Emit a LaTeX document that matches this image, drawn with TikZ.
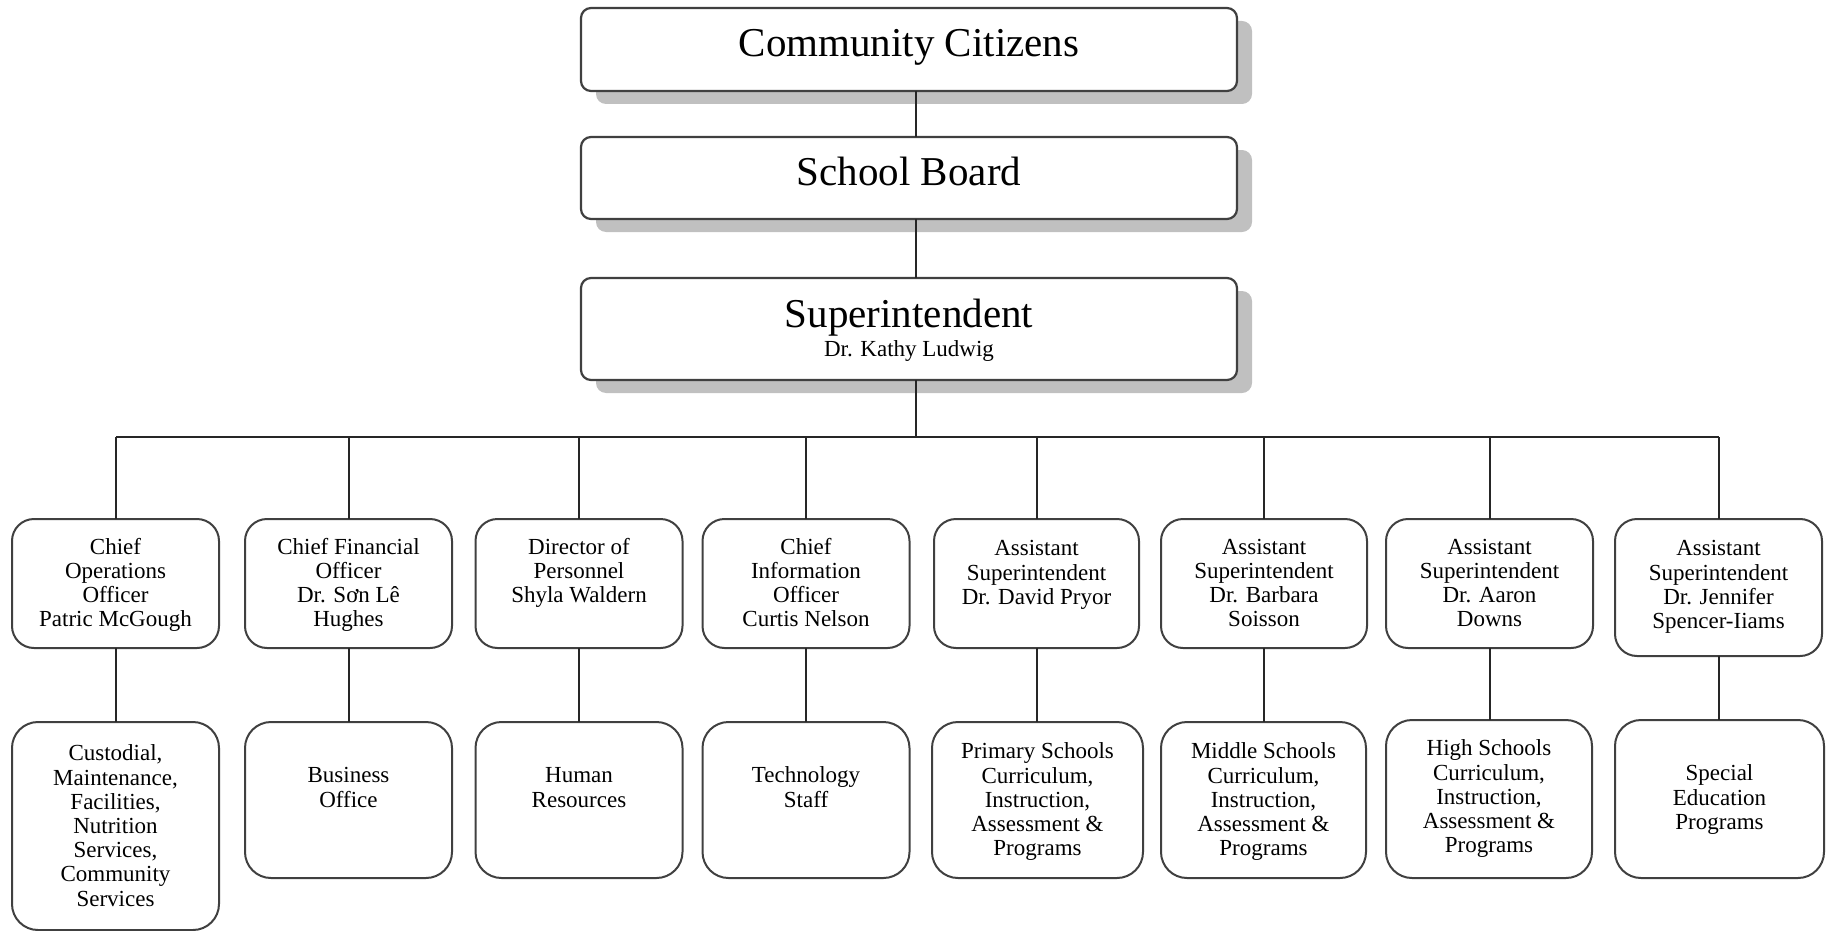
\documentclass[tikz,border=0pt]{standalone}
\usepackage{fontspec}
\setmainfont{Liberation Serif}
\usetikzlibrary{shadows,calc}
\begin{document}
\begin{tikzpicture}[x=0.5pt,y=-0.5pt,
  topbox/.style={draw=black!75, line width=1.1pt, fill=white, rounded corners=5pt, inner sep=0pt, outer sep=0pt,
    drop shadow={shadow xshift=7.5pt, shadow yshift=-6.5pt, fill=black!55, opacity=0.45}},
  midbox/.style={draw=black!75, line width=1pt, rounded corners=11pt, inner sep=0pt, outer sep=0pt, minimum width=103.5pt, minimum height=64.5pt},
  lowbox/.style={draw=black!75, line width=1pt, rounded corners=13pt, inner sep=0pt, outer sep=0pt, minimum width=103.5pt, minimum height=78pt},
  small/.style={font=\fontsize{11.5}{12.1}\selectfont, align=center, inner sep=0pt, anchor=north},
  big/.style={font=\fontsize{20.5}{24}\selectfont, inner sep=0pt, anchor=base},
  conn/.style={draw=black!85, line width=1pt}
]
\useasboundingbox (0,0) rectangle (1830,931);

% top boxes
\node[topbox, minimum width=328pt, minimum height=41.5pt] (cc) at (909,49.5) {};
\node[topbox, minimum width=328pt, minimum height=41pt] (sb) at (909,178) {};
\node[topbox, minimum width=328pt, minimum height=51pt] (sup) at (909,329) {};
\node[big] (tcc) at (909,57) {Community Citizens};
\node[big] (tsb) at (909,185) {School Board};
\node[big] (tsup) at (909,327) {Superintendent};
\node[font=\fontsize{11.5}{13}\selectfont, inner sep=0pt, anchor=base] (tkl) at (909,356) {Dr. Kathy Ludwig};

% middle row
\node[midbox] (m1) at (115.5,583.5) {};
\node[midbox] (m2) at (348.5,583.5) {};
\node[midbox] (m3) at (579,583.5) {};
\node[midbox] (m4) at (806,583.5) {};
\node[midbox, minimum width=102.5pt] (m5) at (1036.5,583.5) {};
\node[midbox, minimum width=103pt] (m6) at (1264,583.5) {};
\node[midbox] (m7) at (1489.5,583.5) {};
\node[midbox, minimum height=68.5pt] (m8) at (1718.5,587.5) {};

\node[small] (t1) at (115.5,537) {\strut Chief\\Operations\\Officer\\Patric McGough};
\node[small] (t2) at (348.5,537) {\strut Chief Financial\\Officer\\Dr. Sơn Lê\\Hughes};
\node[small] (t3) at (579,537) {\strut Director of\\Personnel\\Shyla Waldern};
\node[small] (t4) at (806,537) {\strut Chief\\Information\\Officer\\Curtis Nelson};
\node[small] (t5) at (1036.5,538.5) {\strut Assistant\\Superintendent\\Dr. David Pryor};
\node[small] (t6) at (1264,537) {\strut Assistant\\Superintendent\\Dr. Barbara\\Soisson};
\node[small] (t7) at (1489.5,537) {\strut Assistant\\Superintendent\\Dr. Aaron\\Downs};
\node[small] (t8) at (1718.5,538.5) {\strut Assistant\\Superintendent\\Dr. Jennifer\\Spencer-Iiams};

% bottom row
\node[lowbox, minimum height=104pt] (l1) at (115.5,826) {};
\node[lowbox] (l2) at (348.5,800) {};
\node[lowbox] (l3) at (579,800) {};
\node[lowbox] (l4) at (806,800) {};
\node[lowbox, minimum width=105.5pt] (l5) at (1037.5,800) {};
\node[lowbox, minimum width=102.5pt] (l6) at (1263.5,800) {};
\node[lowbox, minimum width=103pt, minimum height=79pt] (l7) at (1489,799) {};
\node[lowbox, minimum width=104.5pt, minimum height=79pt] (l8) at (1719.5,799) {};

\node[small] (b1) at (115.5,743.5) {\strut Custodial,\\Maintenance,\\Facilities,\\Nutrition\\Services,\\Community\\Services};
\node[small] (b2) at (348.5,765.5) {\strut Business\\Office};
\node[small] (b3) at (579,765.5) {\strut Human\\Resources};
\node[small] (b4) at (806,765.5) {\strut Technology\\Staff};
\node[small] (b5) at (1037.5,741.5) {\strut Primary Schools\\Curriculum,\\Instruction,\\Assessment \&\\Programs};
\node[small] (b6) at (1263.5,741.5) {\strut Middle Schools\\Curriculum,\\Instruction,\\Assessment \&\\Programs};
\node[small] (b7) at (1489,738.5) {\strut High Schools\\Curriculum,\\Instruction,\\Assessment \&\\Programs};
\node[small] (b8) at (1719.5,763.5) {\strut Special\\Education\\Programs};

% connectors
\coordinate (busL) at (116,437);
\coordinate (busR) at (1719,437);
\coordinate (ccout) at ([xshift=3.5pt]cc.south);
\coordinate (sbin) at ([xshift=3.5pt]sb.north);
\coordinate (sbout) at ([xshift=3.5pt]sb.south);
\coordinate (supin) at ([xshift=3.5pt]sup.north);
\coordinate (supout) at ([xshift=3.5pt]sup.south);
\draw[conn] (ccout) -- (sbin);
\draw[conn] (sbout) -- (supin);
\draw[conn] (supout) -- (supout |- busL);
\draw[conn] (busL) -- (busR);
\foreach \i in {1,...,8} {
  \draw[conn] (m\i.north) -- (m\i.north |- busL);
  \draw[conn] (m\i.south) -- (m\i.south |- l\i.north);
}
\end{tikzpicture}
\end{document}
